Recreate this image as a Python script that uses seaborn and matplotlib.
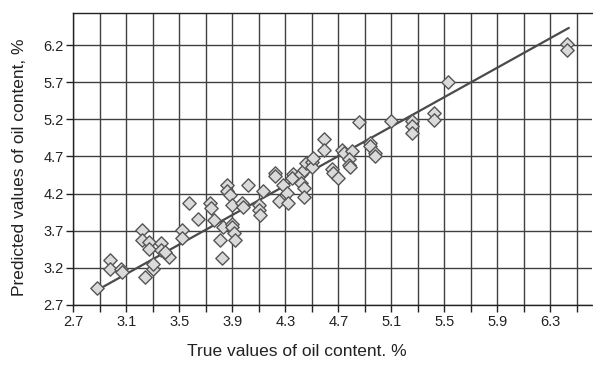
import numpy as np
import pandas as pd
import matplotlib
matplotlib.use("Agg")
import matplotlib.pyplot as plt
import seaborn as sns
from matplotlib.ticker import FixedLocator

# ---- data ----
true_vals = [2.88, 2.98, 2.98, 3.06, 3.07, 3.22, 3.22, 3.27, 3.27, 3.36,
             3.36, 3.42, 3.24, 3.30, 3.30, 3.39, 3.52, 3.52, 3.57, 3.64,
             3.73, 3.74, 3.76, 3.83, 3.81, 3.82, 3.86, 3.86, 3.88, 3.90,
             3.90, 3.90, 3.91, 3.92, 3.97, 3.98, 4.02, 4.10, 4.10, 4.11,
             4.13, 4.22, 4.22, 4.25, 4.28, 4.31, 4.32, 4.36, 4.35, 4.42,
             4.42, 4.44, 4.44, 4.44, 4.46, 4.50, 4.50, 4.51, 4.59, 4.59,
             4.65, 4.66, 4.70, 4.73, 4.74, 4.80, 4.78, 4.78, 4.79, 4.86,
             4.94, 4.94, 4.98, 4.98, 5.10, 5.26, 5.26, 5.26, 5.42, 5.42,
             5.53, 6.43, 6.43]
pred_vals = [2.93, 3.30, 3.19, 3.19, 3.15, 3.71, 3.58, 3.55, 3.46, 3.53,
             3.44, 3.34, 3.08, 3.18, 3.25, 3.41, 3.71, 3.60, 4.07, 3.86,
             4.07, 4.00, 3.85, 3.75, 3.58, 3.33, 4.31, 4.24, 4.18, 4.05,
             3.79, 3.75, 3.67, 3.58, 4.07, 4.02, 4.32, 4.05, 3.98, 3.91,
             4.23, 4.48, 4.43, 4.10, 4.32, 4.21, 4.07, 4.47, 4.41, 4.47,
             4.34, 4.27, 4.16, 4.52, 4.61, 4.63, 4.56, 4.68, 4.94, 4.79,
             4.53, 4.48, 4.41, 4.79, 4.75, 4.77, 4.66, 4.59, 4.56, 5.17,
             4.88, 4.84, 4.75, 4.70, 5.18, 5.18, 5.11, 5.02, 5.29, 5.19,
             5.70, 6.22, 6.13]

fit_x = [2.88, 6.44]
fit_y = [2.90, 6.43]

xtick_labels = ["2.7", "3.1", "3.5", "3.9", "4.3", "4.7", "5.1", "5.5", "5.9", "6.3"]
ytick_labels = ["2.7", "3.2", "3.7", "4.2", "4.7", "5.2", "5.7", "6.2"]

df = pd.DataFrame({"true": true_vals, "pred": pred_vals})
fit_df = pd.DataFrame({"x": fit_x, "y": fit_y})

sns.set_style("white")
plt.rcParams['font.family'] = ['Liberation Sans', 'DejaVu Sans']

fig = plt.figure(figsize=(5.93, 3.65), dpi=100)
ax = fig.add_axes([73.3 / 593, (365 - 305) / 365, (592 - 73.3) / 593, (305 - 12.7) / 365])

xt = [float(t) for t in xtick_labels]
yt = [float(t) for t in ytick_labels]
xminor = [(a + b) / 2 for a, b in zip(xt[:-1], xt[1:])] + [xt[-1] + (xt[1] - xt[0]) / 2]

ax.xaxis.set_major_locator(FixedLocator(xt))
ax.xaxis.set_minor_locator(FixedLocator(xminor))
ax.set_xticklabels(xtick_labels)
ax.yaxis.set_major_locator(FixedLocator(yt))
ax.set_yticklabels(ytick_labels)

ax.set_xlim(2.7, 6.615)
ax.set_ylim(2.7, 6.635)

grid_kw = dict(color="#404040", linewidth=1.0)
ax.grid(True, which="major", axis="both", **grid_kw)
ax.grid(True, which="minor", axis="x", **grid_kw)
ax.set_axisbelow(True)

sns.lineplot(data=fit_df, x="x", y="y", ax=ax, color="#4a4a4a", linewidth=1.6, zorder=3)
sns.scatterplot(data=df, x="true", y="pred", ax=ax, marker="D", s=46,
                color="#dadada", edgecolor="#555555", linewidth=1.0, zorder=4)

for s in ax.spines.values():
    s.set_color("#222222")
    s.set_linewidth(1.0)
ax.spines["right"].set_visible(False)

ax.tick_params(axis="both", which="both", direction="out", length=5, width=1.0,
               color="#222222", labelsize=10.5, labelcolor="#222222", pad=2)
ax.tick_params(axis="x", which="both", bottom=True, top=False)
ax.tick_params(axis="y", which="both", left=True, right=False)

ax.set_xlabel("True values of oil content. %", fontsize=12.5, color="#222222")
ax.set_ylabel("Predicted values of oil content, %", fontsize=12.5, color="#222222")
ax.xaxis.set_label_coords((297 - 73.3) / 518.7, -0.16)
ax.yaxis.set_label_coords(-0.103, 0.47)
ax.xaxis.label.set_va("center")
ax.yaxis.label.set_va("center")

fig.savefig("out.png", dpi=100)
